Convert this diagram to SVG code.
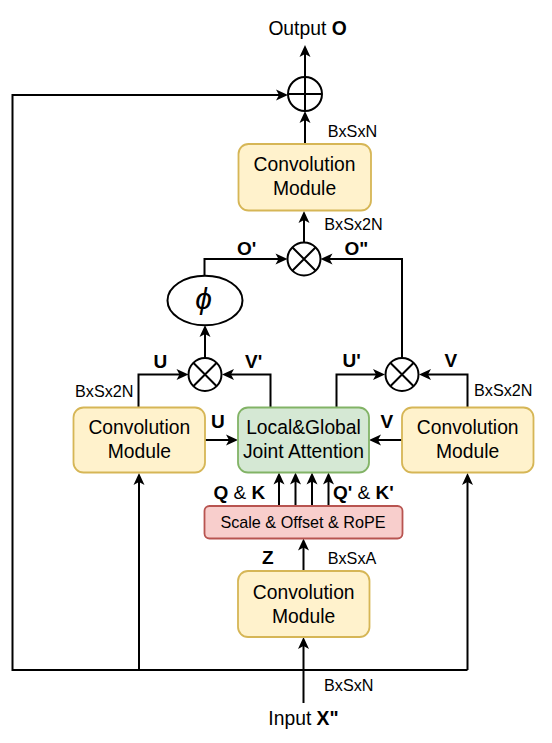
<svg xmlns="http://www.w3.org/2000/svg" width="552" height="743" viewBox="0 0 552 743">
<style>
text{font-family:"Liberation Sans",Arial,Helvetica,sans-serif;fill:#000}
.t{font-size:19.3px;text-anchor:middle}
.s{font-size:16.2px}
.b{font-size:19px;font-weight:bold}
.conv{fill:#fff2cc;stroke:#d6b656;stroke-width:1.8}
.att{fill:#d5e8d4;stroke:#82b366;stroke-width:1.8}
.rope{fill:#f8cecc;stroke:#b85450;stroke-width:1.8}
.op{fill:#fff;stroke:#000;stroke-width:2}
.edge path{fill:none;stroke:#000;stroke-width:2;stroke-linejoin:miter}
.edge path.a{marker-end:url(#arr)}
</style>
<defs>
<marker id="arr" markerUnits="userSpaceOnUse" markerWidth="24" markerHeight="14" viewBox="-12 -7 24 14" refX="0" refY="0" orient="auto" overflow="visible">
<path d="M6,0 L-6,-5.5 L-3,0 L-6,5.5 Z" fill="#000"/>
</marker>
</defs>
<rect width="552" height="743" fill="#fff"/>

<g id="connectors" class="edge">
<path class="a" d="M303.5,703 V643"/>
<path class="a" d="M467.5,670 H12.5 V95 H282"/>
<path class="a" d="M139,670 V479"/>
<path class="a" d="M467.5,670 V479"/>
<path class="a" d="M303.5,571 V544.5"/>
<path class="a" d="M279,506 V478.5"/>
<path class="a" d="M295.5,506 V478.5"/>
<path class="a" d="M312,506 V478.5"/>
<path class="a" d="M328.5,506 V478.5"/>
<path class="a" d="M205,440 H232"/>
<path class="a" d="M402,440 H375"/>
<path class="a" d="M138.5,407.5 V374.5 H182.5"/>
<path class="a" d="M270.5,407.5 V374.5 H228"/>
<path class="a" d="M336.5,407.5 V374.5 H379"/>
<path class="a" d="M467.5,407.5 V374.5 H425"/>
<path class="a" d="M205,358 V331"/>
<path class="a" d="M204.5,275.5 V259 H281.5"/>
<path class="a" d="M402,358 V259 H326.5"/>
<path class="a" d="M304,242.5 V217"/>
<path class="a" d="M305,144 V117"/>
<path class="a" d="M305,77 V51"/>
</g>

<g id="output">
<text class="t" x="307.5" y="34.5">Output <tspan font-weight="bold">O</tspan></text>
</g>

<g id="add">
<circle class="op" cx="305" cy="94" r="17"/>
<path d="M288,94 H322 M305,77 V111" stroke="#000" stroke-width="2"/>
</g>

<g id="conv-top">
<rect class="conv" x="238.5" y="144" width="132.5" height="66.5" rx="10"/>
<text class="t" x="304.5" y="170.5">Convolution</text>
<text class="t" x="304.5" y="195">Module</text>
</g>

<g id="mul-top">
<circle class="op" cx="304" cy="259" r="16.5"/>
<path d="M292.3,247.3 L315.7,270.7 M315.7,247.3 L292.3,270.7" stroke="#000" stroke-width="2"/>
</g>

<g id="phi">
<ellipse class="op" cx="205" cy="300.5" rx="37.5" ry="24.7"/>
<text x="203.5" y="309" font-family="'DejaVu Sans','Liberation Serif',serif" font-weight="200" font-style="italic" font-size="30" text-anchor="middle" fill="#333">ϕ</text>
</g>

<g id="mul-left">
<circle class="op" cx="205" cy="374.5" r="16.5"/>
<path d="M193.3,362.8 L216.7,386.2 M216.7,362.8 L193.3,386.2" stroke="#000" stroke-width="2"/>
</g>

<g id="mul-right">
<circle class="op" cx="402" cy="374.5" r="16.5"/>
<path d="M390.3,362.8 L413.7,386.2 M413.7,362.8 L390.3,386.2" stroke="#000" stroke-width="2"/>
</g>

<g id="conv-left">
<rect class="conv" x="73.5" y="407.5" width="131.5" height="65" rx="10"/>
<text class="t" x="139.3" y="433.5">Convolution</text>
<text class="t" x="139.3" y="458.3">Module</text>
</g>

<g id="attention">
<rect class="att" x="238" y="407.5" width="131" height="65" rx="10"/>
<text class="t" x="303.5" y="434.3">Local&amp;Global</text>
<text class="t" x="303.5" y="458.3">Joint Attention</text>
</g>

<g id="conv-right">
<rect class="conv" x="402" y="407.5" width="131.5" height="65" rx="10"/>
<text class="t" x="467.7" y="433.5">Convolution</text>
<text class="t" x="467.7" y="458.3">Module</text>
</g>

<g id="rope">
<rect class="rope" x="204.5" y="506" width="198" height="32.5" rx="5"/>
<text class="s" x="303" y="527.7" text-anchor="middle">Scale &amp; Offset &amp; RoPE</text>
</g>

<g id="conv-bottom">
<rect class="conv" x="238" y="571" width="131.5" height="66" rx="10"/>
<text class="t" x="303.7" y="599">Convolution</text>
<text class="t" x="303.7" y="622.7">Module</text>
</g>

<g id="input">
<text class="t" x="303.5" y="725">Input <tspan font-weight="bold">X"</tspan></text>
</g>

<g id="labels">
<text class="s" x="327.7" y="136.7">BxSxN</text>
<text class="s" x="324.3" y="230">BxSx2N</text>
<text class="b" x="237" y="255">O'</text>
<text class="b" x="344.5" y="255">O"</text>
<text class="b" x="153.5" y="368.3">U</text>
<text class="b" x="245" y="368">V'</text>
<text class="b" x="342.5" y="366.7">U'</text>
<text class="b" x="444.5" y="366.7">V</text>
<text class="s" x="75" y="397.3">BxSx2N</text>
<text class="s" x="474" y="395.7">BxSx2N</text>
<text class="b" x="211" y="428.3">U</text>
<text class="b" x="380.5" y="427.7">V</text>
<text class="b" x="213.5" y="499.3">Q <tspan font-weight="normal">&amp;</tspan> K</text>
<text class="b" x="333" y="499.3">Q' <tspan font-weight="normal">&amp;</tspan> K'</text>
<text class="b" x="262" y="564">Z</text>
<text class="s" x="327.7" y="564">BxSxA</text>
<text class="s" x="324" y="690.7">BxSxN</text>
</g>
</svg>
